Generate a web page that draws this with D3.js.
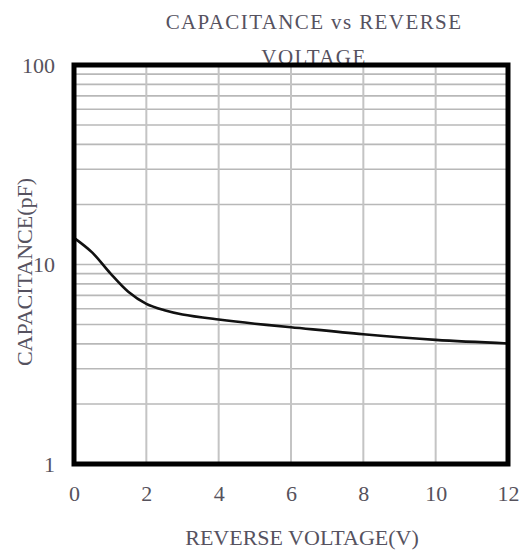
<!DOCTYPE html>
<html>
<head>
    <meta charset='utf-8'>
    <title>Capacitance vs Reverse Voltage</title>
    <style>
    body {
      margin: 0;
      background: #fff;
    }
    text {
      font-family: 'Liberation Serif', 'Times New Roman', serif;
    }
    </style>
    <script src='https://d3js.org/d3.v7.min.js'></script>
</head>
<body>
<div id="container"></div>
<script>
// ******* Data *******
const voltage     = [0, 0.5, 1, 1.5, 2, 2.5, 3, 4, 5, 6, 8, 10, 12];
const capacitance = [13.6, 11.5, 9.05, 7.3, 6.35, 5.9, 5.62, 5.3, 5.05, 4.85, 4.47, 4.19, 4.02];

const xTicks = [0, 2, 4, 6, 8, 10, 12];
const yTicks = [1, 10, 100];
const xGrid  = [2, 4, 6, 8, 10];
const yGrid  = [2, 3, 4, 5, 6, 7, 8, 9, 10, 20, 30, 40, 50, 60, 70, 80, 90];

// ******* Constants *******
const width = 524,
      height = 551,
      margin = {top: 65, right: 16, bottom: 87, left: 74};

var x = d3.scaleLinear()
    .domain([0, 12])
    .range([margin.left, width - margin.right]);
var y = d3.scaleLog()
    .domain([1, 100])
    .range([height - margin.bottom, margin.top]);

var svg = d3.select("#container").append("svg")
    .attr("width", width)
    .attr("height", height)
    .style("display", "block");

// ******* Titles (drawn first: the frame covers the foot of the 2nd line) *******
svg.append("text")
    .attr("x", 314).attr("y", 29)
    .attr("text-anchor", "middle")
    .attr("font-size", 21)
    .attr("letter-spacing", 1.4)
    .attr("fill", "#56525f")
    .text("CAPACITANCE vs REVERSE");
svg.append("text")
    .attr("x", 314).attr("y", 64)
    .attr("text-anchor", "middle")
    .attr("font-size", 21)
    .attr("letter-spacing", 1.4)
    .attr("fill", "#56525f")
    .text("VOLTAGE");

// ******* Grid *******
svg.append("g").selectAll("line")
    .data(yGrid)
    .enter().append("line")
    .attr("x1", x(0)).attr("x2", x(12))
    .attr("y1", d => y(d)).attr("y2", d => y(d))
    .attr("stroke", "#b8b8b8")
    .attr("stroke-width", 1.6);

svg.append("g").selectAll("line")
    .data(xGrid)
    .enter().append("line")
    .attr("x1", d => x(d)).attr("x2", d => x(d))
    .attr("y1", y(1)).attr("y2", y(100))
    .attr("stroke", "#c4c4c4")
    .attr("stroke-width", 2);

// ******* Curve *******
var line = d3.line()
    .x(d => x(d[0]))
    .y(d => y(d[1]))
    .curve(d3.curveCatmullRom.alpha(0.5));

svg.append("path")
    .datum(d3.zip(voltage, capacitance))
    .attr("d", line)
    .attr("fill", "none")
    .attr("stroke", "#111")
    .attr("stroke-width", 2.6);

// ******* Frame *******
svg.append("rect")
    .attr("x", x(0)).attr("y", y(100))
    .attr("width", x(12) - x(0))
    .attr("height", y(1) - y(100))
    .attr("fill", "none")
    .attr("stroke", "#000")
    .attr("stroke-width", 5);

// ******* Axes (labels only) *******
var xAxis = svg.append("g")
    .attr("transform", "translate(0," + y(1) + ")")
    .call(d3.axisBottom(x).tickValues(xTicks).tickSize(0).tickPadding(21));
var yAxis = svg.append("g")
    .attr("transform", "translate(" + x(0) + ",0)")
    .call(d3.axisLeft(y).tickValues(yTicks).tickFormat(d3.format("d")).tickSize(0).tickPadding(19));

[xAxis, yAxis].forEach(function(a) {
    a.select(".domain").remove();
    a.selectAll("text")
        .attr("font-family", "'Liberation Serif', serif")
        .attr("font-size", 22)
        .attr("fill", "#56525c");
});

svg.append("text")
    .attr("x", 302).attr("y", 545)
    .attr("text-anchor", "middle")
    .attr("font-size", 22)
    .attr("fill", "#56525f")
    .text("REVERSE VOLTAGE(V)");

svg.append("text")
    .attr("transform", "translate(32,272) rotate(-90)")
    .attr("text-anchor", "middle")
    .attr("font-size", 22)
    .attr("fill", "#56525f")
    .text("CAPACITANCE(pF)");
</script>
</body>
</html>
